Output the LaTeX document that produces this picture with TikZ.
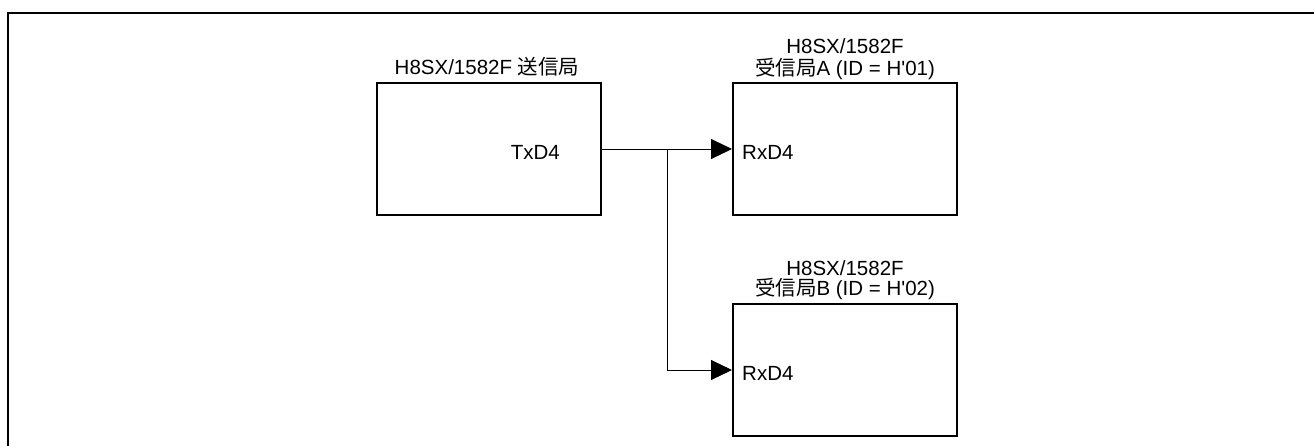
\documentclass[tikz,border=0pt]{standalone}
\usepackage{fontspec}
\setmainfont{Liberation Sans}
\newfontfamily\cjk{Noto Sans CJK JP}
\usetikzlibrary{arrows.meta}
\begin{document}
\begin{tikzpicture}[x=1pt,y=-1pt,
  station/.style={draw,line width=2pt,minimum width=224pt,minimum height=132pt,inner sep=0pt},
  txt/.style={font=\fontsize{20.5pt}{24pt}\selectfont,inner sep=0pt},
  wire/.style={line width=1pt},
  arr/.style={wire,-{Triangle[length=21pt,width=20pt]}}]
\useasboundingbox (0,0) rectangle (1314,445);
\draw[line width=2pt] (8,446) -- (8,13) -- (1314,13);
\node[station] (tx) at (489,149) {};
\node[station] (ra) at (845,149) {};
\node[station] (rb) at (845,370) {};
\node[txt] (txt) at (487,67) {H8SX/1582F {\cjk 送信局}};
\node[txt] (ta1) at (845,46) {H8SX/1582F};
\node[txt] (ta2) at (845,69) {{\cjk 受信局}A (ID = H\textquotesingle 01)};
\node[txt] (tb1) at (845,268) {H8SX/1582F};
\node[txt] (tb2) at (845,289) {{\cjk 受信局}B (ID = H\textquotesingle 02)};
\node[txt,anchor=east] (txd) at (560,152) {TxD4};
\node[txt,anchor=west] (rxa) at (742,152) {RxD4};
\node[txt,anchor=west] (rxb) at (742,373) {RxD4};
\coordinate (j) at (667,149);
\draw[arr] (tx.east) -- (ra.west);
\draw[arr] (j) |- (rb.west);
\end{tikzpicture}
\end{document}
